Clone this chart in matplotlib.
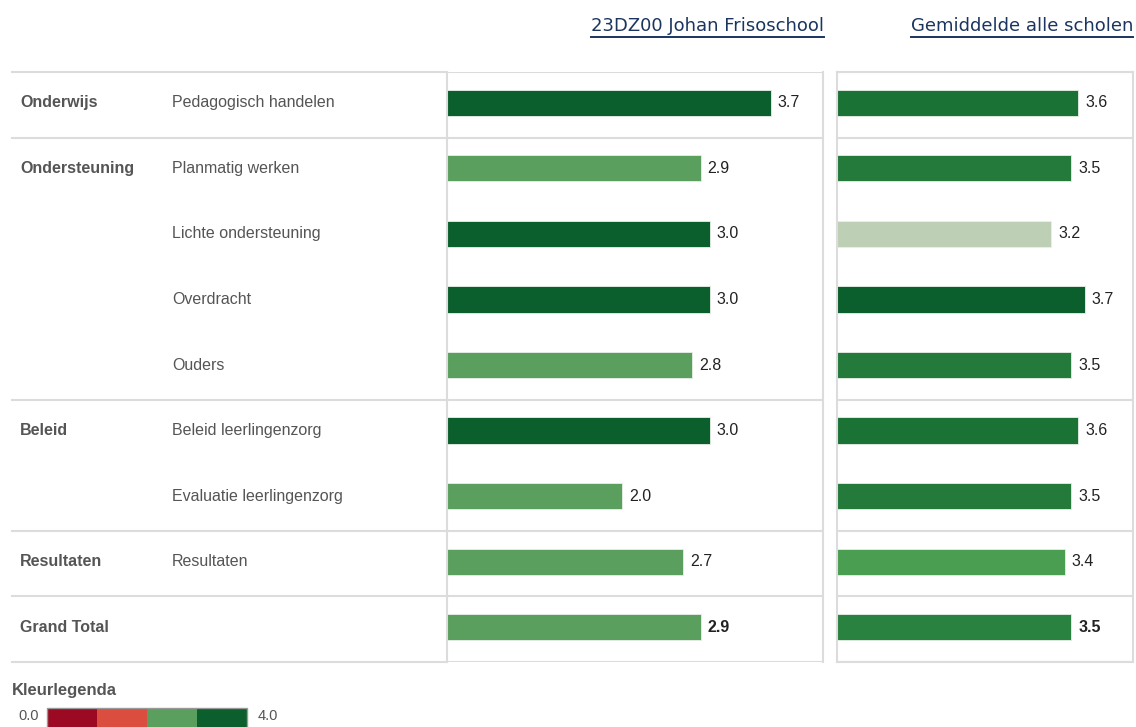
import matplotlib.pyplot as plt
import matplotlib.font_manager as fm
from matplotlib.patches import Rectangle

# avoid the condensed variant being picked for "Liberation Sans"
fm.fontManager.ttflist = [f for f in fm.fontManager.ttflist if "Narrow" not in f.fname]
plt.rcParams["font.family"] = ["Liberation Sans", "DejaVu Sans"]

groups = ["Onderwijs", "Ondersteuning", "", "", "", "Beleid", "", "Resultaten", "Grand Total"]
labels = ["Pedagogisch handelen", "Planmatig werken", "Lichte ondersteuning", "Overdracht",
          "Ouders", "Beleid leerlingenzorg", "Evaluatie leerlingenzorg", "Resultaten", ""]
school = [3.7, 2.9, 3.0, 3.0, 2.8, 3.0, 2.0, 2.7, 2.9]
average = [3.6, 3.5, 3.2, 3.7, 3.5, 3.6, 3.5, 3.4, 3.5]
school_colors = ["#0b5f2c", "#5a9f5e", "#0b5f2c", "#0b5f2c", "#5a9f5e",
                 "#0b5f2c", "#5a9f5e", "#5a9f5e", "#5a9f5e"]
average_colors = ["#1b7235", "#237a3b", "#bdd0b5", "#0b5f2c", "#237a3b",
                  "#1b7235", "#237a3b", "#4a9e52", "#2a8240"]
group_breaks = [0.5, 4.5, 6.5, 7.5]
titles = ["23DZ00 Johan Frisoschool", "Gemiddelde alle scholen"]
legend_colors = ["#9b0a22", "#da4d3f", "#5a9f5e", "#0b5f2c"]

W, H = 1136, 727
fig = plt.figure(figsize=(W / 100, H / 100), dpi=100)

grid = "#dcdcdc"
text_col = "#555555"
fs = 11.5
y_top, y_bot = 72, 662
n = len(labels)


def fx(px):
    return px / W


def fy(px):
    return 1 - px / H


# row labels table (left part)
lab_ax = fig.add_axes([fx(12), fy(y_bot), fx(447 - 12), fy(y_top) - fy(y_bot)])
lab_ax.set_xlim(0, 435)
lab_ax.set_ylim(n - 0.5, -0.5)
lab_ax.axis("off")
for i, (g, l) in enumerate(zip(groups, labels)):
    lab_ax.text(8, i - 0.03, g, ha="left", va="center", fontsize=fs, fontweight="bold", color=text_col)
    lab_ax.text(160, i - 0.03, l, ha="left", va="center", fontsize=fs, color=text_col)
for b in [-0.5] + group_breaks + [n - 0.5]:
    lab_ax.axhline(b, color=grid, lw=1.5, clip_on=False)


def panel(left, right, xmax, values, colors, box):
    ax = fig.add_axes([fx(left), fy(y_bot), fx(right - left), fy(y_top) - fy(y_bot)])
    ax.barh([i - 0.03 for i in range(n)], values, height=0.4, color=colors,
            edgecolor="#e8f0e8", lw=0.6)
    ax.set_xlim(0, xmax)
    ax.set_ylim(n - 0.5, -0.5)
    ax.set_xticks([])
    ax.set_yticks([])
    for s in ax.spines.values():
        s.set_color(grid)
        s.set_linewidth(1.5)
    if not box:
        ax.spines["top"].set_visible(False)
        ax.spines["bottom"].set_visible(False)
    for b in [-0.5] + group_breaks + [n - 0.5]:
        ax.axhline(b, color=grid, lw=1.5)
    for i, v in enumerate(values):
        ax.annotate(f"{v:.1f}", (v, i - 0.03), xytext=(5, 0), textcoords="offset points",
                    ha="left", va="center", fontsize=fs, color="#222222",
                    fontweight="bold" if i == n - 1 else "normal")
    return ax


panel(447, 823, 4.297, school, school_colors, False)
panel(837, 1133, 4.418, average, average_colors, True)

# underlined titles
renderer = fig.canvas.get_renderer()
for t, xr in zip(titles, [824, 1133]):
    txt = fig.text(fx(xr), fy(26), t, ha="right", va="center", fontsize=13,
                   family=["DejaVu Sans"], color="#1a3560")
    bb = txt.get_window_extent(renderer)
    fig.add_artist(plt.Line2D([bb.x0 / W, bb.x1 / W], [fy(37), fy(37)],
                              color="#1a3560", lw=1.4, transform=fig.transFigure))

# colour legend
fig.text(fx(12), fy(691), "Kleurlegenda", ha="left", va="center", fontsize=12,
         fontweight="bold", color=text_col)
fig.text(fx(18), fy(716), "0.0", ha="left", va="center", fontsize=10.5, color=text_col)
fig.text(fx(258), fy(716), "4.0", ha="left", va="center", fontsize=10.5, color=text_col)
for k, c in enumerate(legend_colors):
    x0 = 47 + k * 50
    fig.add_artist(Rectangle((fx(x0), fy(730)), fx(50), fy(708) - fy(730), facecolor=c,
                             edgecolor="none", transform=fig.transFigure))
fig.add_artist(Rectangle((fx(47), fy(730)), fx(200), fy(708) - fy(730), facecolor="none",
                         edgecolor="#999999", lw=1, transform=fig.transFigure))

fig.savefig("out.png", dpi=100)
